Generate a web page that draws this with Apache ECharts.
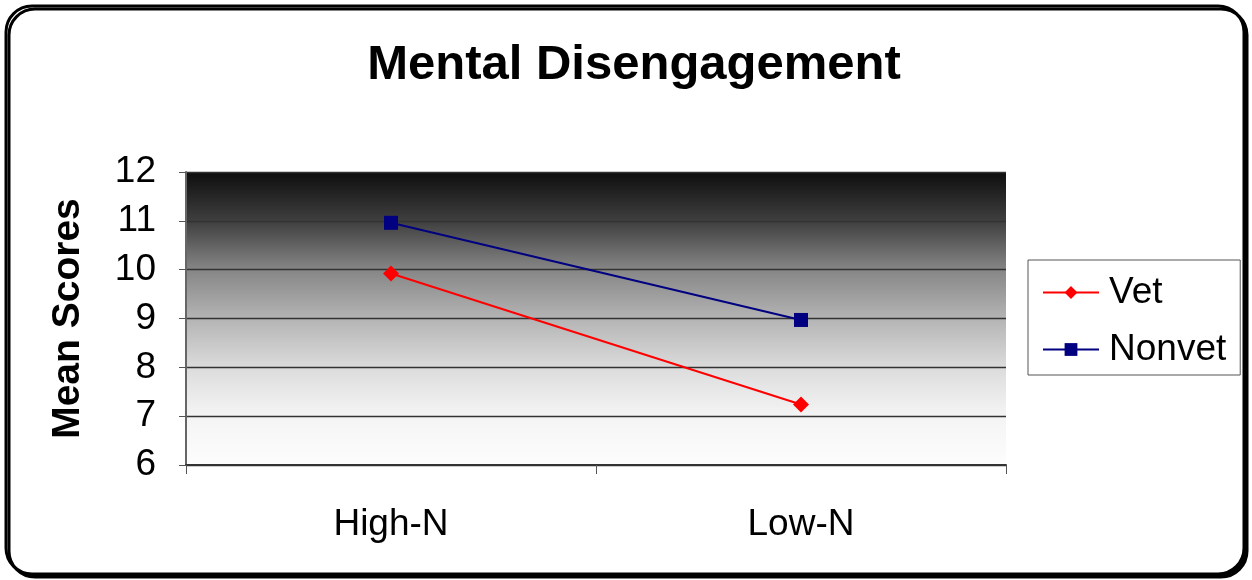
<!DOCTYPE html>
<html>
<head>
<meta charset="utf-8">
<script src="https://cdn.jsdelivr.net/npm/echarts@6/dist/echarts.min.js"></script>
<style>
  html, body { margin: 0; padding: 0; background: #fff; }
  #chart { width: 1252px; height: 580px; }
</style>
</head>
<body>
<div id="chart"></div>
<script>
// data
const categories = ['High-N', 'Low-N'];
const vetScores = [9.92, 7.24];
const nonvetScores = [10.96, 8.97];
const yTicks = { min: 6, max: 12, interval: 1 };

const chart = echarts.init(document.getElementById('chart'));
const font = 'Liberation Sans, Arial, sans-serif';

const option = {
  animation: false,
  textStyle: { fontFamily: font },
  title: {
    text: 'Mental Disengagement',
    left: 629,
    top: 36,
    textAlign: 'center',
    textStyle: { fontSize: 49, fontWeight: 'bold', color: '#000', fontFamily: font }
  },
  graphic: [
    {
      type: 'rect',
      z: -10,
      shape: { x: 6, y: 6, width: 1238, height: 568, r: 26 },
      style: {
        fill: '#fff', stroke: '#000', lineWidth: 3,
        shadowColor: '#000', shadowOffsetX: 3, shadowOffsetY: 3, shadowBlur: 0
      }
    }
  ],
  legend: {
    left: 1028,
    top: 260,
    orient: 'vertical',
    padding: [14, 14, 7, 14],
    itemGap: 20,
    itemWidth: 56,
    itemHeight: 16,
    borderColor: '#555',
    borderWidth: 1,
    textStyle: { fontSize: 37, color: '#000', fontFamily: font, padding: [0, 0, 0, 5] },
    data: ['Vet', 'Nonvet']
  },
  grid: {
    left: 186, right: 246, top: 172, bottom: 115,
    show: true,
    borderWidth: 0,
    backgroundColor: {
      type: 'linear', x: 0, y: 0, x2: 0, y2: 1,
      colorStops: [
        { offset: 0, color: '#0e0e0e' },
        { offset: 0.17, color: '#404040' },
        { offset: 0.33, color: '#858585' },
        { offset: 0.5, color: '#b4b4b4' },
        { offset: 0.67, color: '#dcdcdc' },
        { offset: 0.83, color: '#f4f4f4' },
        { offset: 1, color: '#fdfdfd' }
      ]
    }
  },
  xAxis: {
    type: 'category',
    data: categories,
    boundaryGap: true,
    axisLine: { lineStyle: { color: '#333', width: 2 } },
    axisTick: { show: true, length: 9, lineStyle: { color: '#555', width: 1 } },
    axisLabel: { fontSize: 37, color: '#000', margin: 41, fontFamily: font },
    splitLine: { show: false }
  },
  yAxis: {
    type: 'value',
    min: yTicks.min,
    max: yTicks.max,
    interval: yTicks.interval,
    name: 'Mean Scores',
    nameLocation: 'middle',
    nameGap: 98,
    nameTextStyle: { fontSize: 39, fontWeight: 'bold', color: '#000', fontFamily: font },
    axisLine: { show: true, lineStyle: { color: '#666', width: 2 } },
    axisTick: { show: true, length: 7, lineStyle: { color: '#555' } },
    axisLabel: { fontSize: 37, color: '#000', margin: 30, fontFamily: font },
    splitLine: { show: true, lineStyle: { color: '#333', width: 1.3 } }
  },
  series: [
    {
      name: 'Vet',
      type: 'line',
      data: vetScores,
      symbol: 'diamond',
      symbolSize: 16,
      color: '#ff0000',
      lineStyle: { color: '#ff0000', width: 2 },
      itemStyle: { color: '#ff0000' }
    },
    {
      name: 'Nonvet',
      type: 'line',
      data: nonvetScores,
      symbol: 'rect',
      symbolSize: 14,
      color: '#000080',
      lineStyle: { color: '#000080', width: 2 },
      itemStyle: { color: '#000080' }
    }
  ]
};

chart.setOption(option);
</script>
</body>
</html>
